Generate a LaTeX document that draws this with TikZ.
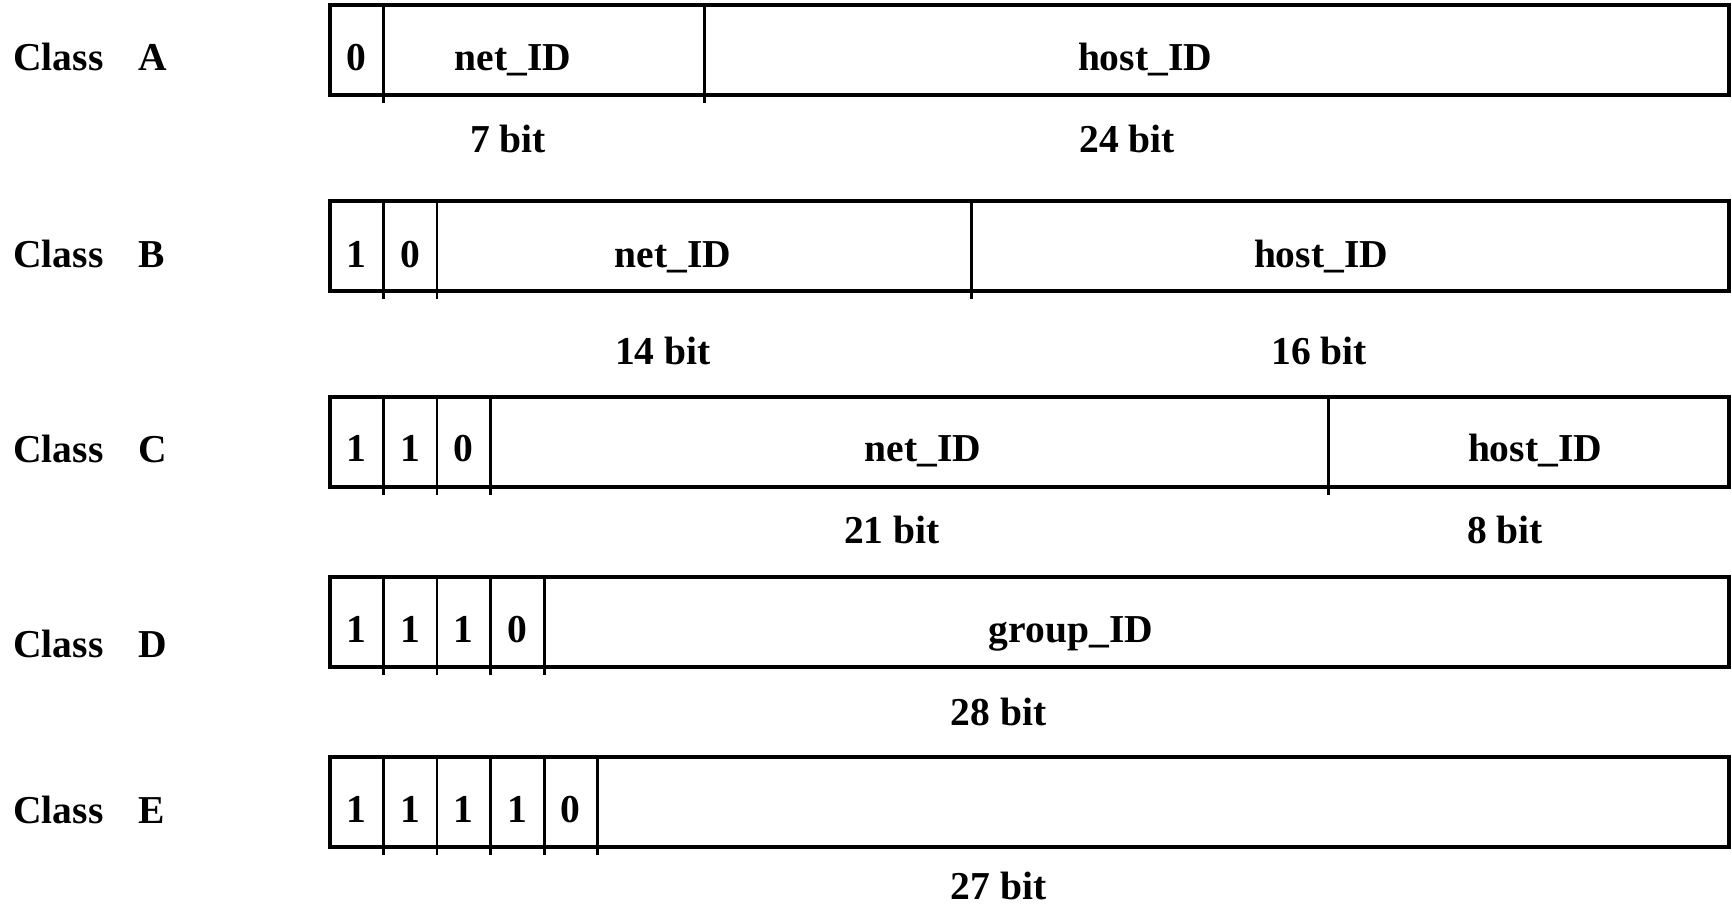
\documentclass[tikz,border=0pt]{standalone}
\usepackage{fontspec}
\setmainfont{Liberation Serif}

\begin{document}
\begin{tikzpicture}[
  field/.style={draw=black, line width=2.2pt},
  divider/.style={black, line width=1.7pt},
  txt/.style={font=\fontsize{22.5}{27}\selectfont\bfseries, inner sep=0pt, anchor=base},
  classname/.style={txt, anchor=base west},
  bitlen/.style={txt}
]
\useasboundingbox (0,0) rectangle (34.64,18.14);

% Class A
\node[classname] (clA) at (0.26,16.73) {Class\hspace{0.7cm}A};
\draw[field] (6.60,16.24) rectangle (34.58,18.04);
\foreach \x in {7.67,14.08} \draw[divider] (\x,18.04) -- (\x,16.08);
\node[txt] (a0) at (7.135,16.73) {0};
\node[txt] (anet) at (10.26,16.73) {net\_ID};
\node[txt] (ahost) at (22.90,16.73) {host\_ID};
\node[bitlen] (a7) at (10.16,15.08) {7 bit};
\node[bitlen] (a24) at (22.54,15.08) {24 bit};

% Class B
\node[classname] (clB) at (0.26,12.79) {Class\hspace{0.7cm}B};
\draw[field] (6.60,12.32) rectangle (34.58,14.12);
\foreach \x in {7.67,8.74,19.42} \draw[divider] (\x,14.12) -- (\x,12.16);
\node[txt] (b1) at (7.135,12.79) {1};
\node[txt] (b2) at (8.205,12.79) {0};
\node[txt] (bnet) at (13.46,12.79) {net\_ID};
\node[txt] (bhost) at (26.42,12.79) {host\_ID};
\node[bitlen] (b14) at (13.26,10.84) {14 bit};
\node[bitlen] (b16) at (26.38,10.84) {16 bit};

% Class C
\node[classname] (clC) at (0.26,8.89) {Class\hspace{0.7cm}C};
\draw[field] (6.60,8.40) rectangle (34.58,10.20);
\foreach \x in {7.67,8.74,9.81,26.56} \draw[divider] (\x,10.20) -- (\x,8.24);
\node[txt] (c1) at (7.135,8.90) {1};
\node[txt] (c2) at (8.205,8.90) {1};
\node[txt] (c3) at (9.275,8.90) {0};
\node[txt] (cnet) at (18.46,8.90) {net\_ID};
\node[txt] (chost) at (30.70,8.90) {host\_ID};
\node[bitlen] (c21) at (17.84,7.27) {21 bit};
\node[bitlen] (c8) at (30.10,7.27) {8 bit};

% Class D
\node[classname] (clD) at (0.26,4.98) {Class\hspace{0.7cm}D};
\draw[field] (6.60,4.80) rectangle (34.58,6.60);
\foreach \x in {7.67,8.74,9.81,10.88} \draw[divider] (\x,6.60) -- (\x,4.64);
\node[txt] (d1) at (7.135,5.28) {1};
\node[txt] (d2) at (8.205,5.28) {1};
\node[txt] (d3) at (9.275,5.28) {1};
\node[txt] (d4) at (10.345,5.28) {0};
\node[txt] (dgroup) at (21.42,5.28) {group\_ID};
\node[bitlen] (d28) at (19.97,3.63) {28 bit};

% Class E
\node[classname] (clE) at (0.26,1.67) {Class\hspace{0.7cm}E};
\draw[field] (6.60,1.20) rectangle (34.58,3.00);
\foreach \x in {7.67,8.74,9.81,10.88,11.95} \draw[divider] (\x,3.00) -- (\x,1.04);
\node[txt] (e1) at (7.135,1.69) {1};
\node[txt] (e2) at (8.205,1.69) {1};
\node[txt] (e3) at (9.275,1.69) {1};
\node[txt] (e4) at (10.345,1.69) {1};
\node[txt] (e5) at (11.415,1.69) {0};
\node[bitlen] (e27) at (19.97,0.14) {27 bit};
\end{tikzpicture}
\end{document}
